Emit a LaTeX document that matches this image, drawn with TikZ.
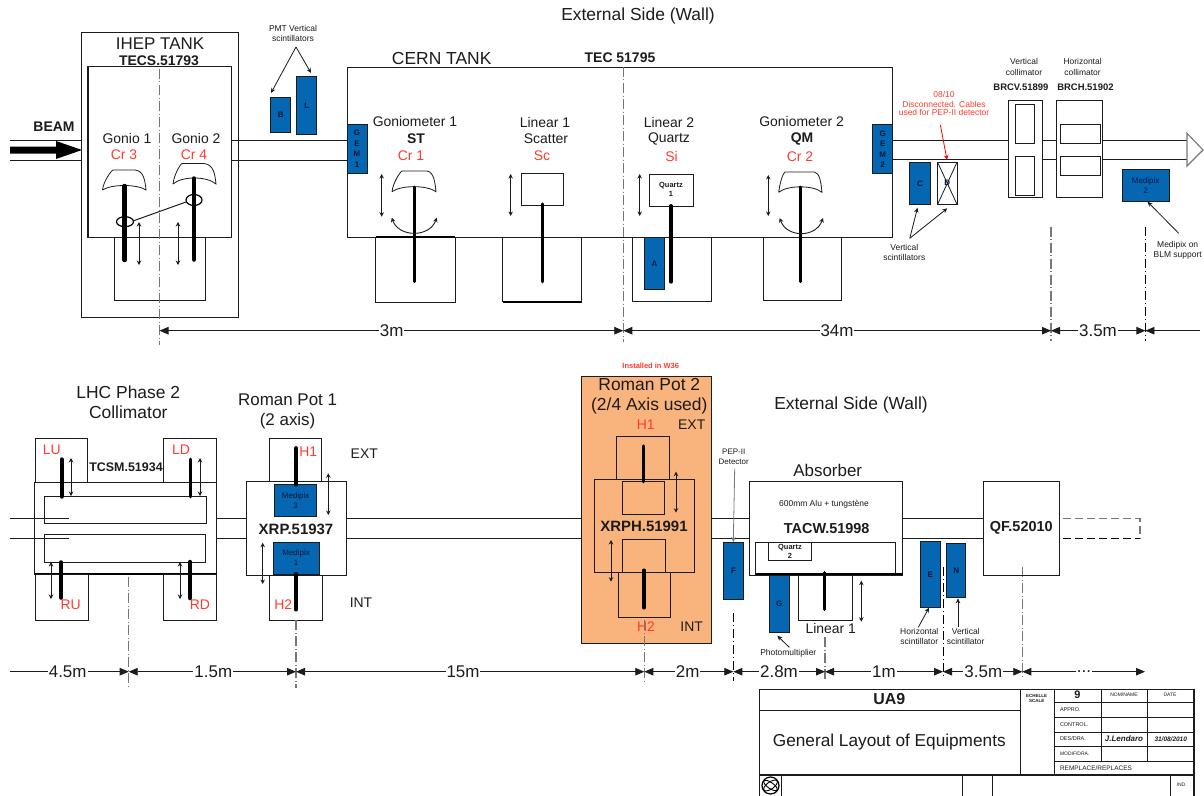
\documentclass[tikz,border=0pt]{standalone}
\usepackage{fontspec}
\setmainfont{Liberation Sans}
\usetikzlibrary{arrows.meta}
\definecolor{ink}{HTML}{1C1C1C}
\definecolor{rd}{HTML}{FF3B30}
\definecolor{blu}{HTML}{0566B2}
\definecolor{nav}{HTML}{06183A}
\definecolor{org}{HTML}{F8B47C}
\definecolor{cl}{HTML}{777777}
\tikzset{
  bx/.style={draw=ink,line width=1bp,inner sep=0pt,outer sep=0pt,anchor=center},
  blubx/.style={bx,fill=blu,draw=ink,text=nav},
  lab/.style={inner sep=0pt,outer sep=0pt,anchor=center,text=ink,align=center},
  ln/.style={draw=ink,line width=1bp},
  stem/.style={draw=black,line cap=round},
  dbl/.style={draw=ink,line width=0.9bp,{Stealth[length=4.5bp,width=4.5bp]}-{Stealth[length=4.5bp,width=4.5bp]}},
  lead/.style={draw=ink,line width=0.8bp,-{Stealth[length=5bp,width=4.5bp]}},
  ctr/.style={draw=cl,line width=1.1bp,dash pattern=on 10bp off 2.5bp on 1bp off 2.5bp},
  ctrk/.style={draw=black,line width=0.9bp,dash pattern=on 9bp off 3bp on 1bp off 3bp},
  dimn/.style={draw=ink,line width=0.8bp,{Triangle[length=9bp,width=7.5bp]}-{Triangle[length=9bp,width=7.5bp]}},
  crys/.style={draw=ink,line width=0.8bp},
}
\newcommand{\Rect}[7][]{%
  \pgfmathsetmacro\bxw{#5-#3}\pgfmathsetmacro\bxh{#6-#4}%
  \pgfmathsetmacro\bxx{(#5+#3)/2}\pgfmathsetmacro\bxy{(#6+#4)/2}%
  \node[bx,#1,minimum width=\bxw bp,minimum height=\bxh bp] (#2) at (\bxx,\bxy) {#7};}
\newcommand{\Txt}[6][]{% opts name x y size text
  \node[lab,node font=\fontsize{#5}{#5}\selectfont,#1] (#2) at (#3,#4) {#6};}
\newcommand{\Conn}[7][ln]{% style name x1 y1 x2 y2 (extra)
  \coordinate (#2a) at (#3,#4); \coordinate (#2b) at (#5,#6);
  \draw[#1,#7] (#2a) -- (#2b);}
\newcommand{\Dbl}[4]{\Conn[dbl]{#1}{#2}{#3}{#2}{#4}{}}
\newcommand{\Stem}[5]{\Conn[stem]{#1}{#2}{#3}{#2}{#4}{line width=#5bp}}
\newcommand{\Dimn}[6]{% name x1 x2 y label labelx
  \coordinate (#1a) at (#2,#4); \coordinate (#1b) at (#3,#4);
  \draw[dimn] (#1a) -- (#1b);
  \node[lab,fill=white,inner xsep=1pt,inner ysep=0pt,font=\fontsize{17}{17}\selectfont] (#1l) at (#6,#4) {#5};}
\newcommand{\Crys}[7]{% xl yb xtl ytop xtr xr ybm
  \draw[crys] (#1,#2) .. controls ({#1+1},{#2-9}) and ({#3-2},{#4+1}) .. (#3,#4)
    -- (#5,#4) .. controls ({#6+2-4},{#4+1}) and ({#6-1},{#2-9}) .. (#6,#2)
    .. controls ({#6-9},{#7-2}) and ({#1+9},{#7-2}) .. (#1,#2);}
\newcommand{\CArc}[4]{% name xl xr y
  \coordinate (#1a) at (#2,#4); \coordinate (#1b) at (#3,#4);
  \draw[dbl] (#1a) .. controls ({#2+7},{#4+20}) and ({#3-7},{#4+20}) .. (#1b);}
\begin{document}
\begin{tikzpicture}[x=1bp,y=-1bp]
\useasboundingbox (0,0) rectangle (1204,796);
\fill[white] (0,0) rectangle (1204,796);

% ===== upper beam line =====
\Conn{b1}{10}{140}{82}{140}{}
\Conn{b2}{10}{160}{82}{160}{}
\Conn{b3}{232}{140}{347}{140}{}
\Conn{b4}{232}{160}{347}{160}{}
\Conn{b5}{892.8}{140}{1008.4}{140}{}
\Conn{b6}{892.8}{159.5}{1008.4}{159.5}{}
\Conn{b7}{1042}{140}{1056.6}{140}{}
\Conn{b8}{1042}{159.5}{1056.6}{159.5}{}
\Conn{b9}{1102.4}{140}{1187}{140}{}
\Conn{b10}{1102.4}{159.5}{1187}{159.5}{}
\draw[draw=cl,line width=1.1bp,fill=white] (1187,133.3) -- (1203,150) -- (1187,166) -- cycle;
% beam arrow
\fill[black] (10,146.5) -- (56,146.5) -- (56,141) -- (82,150) -- (56,159) -- (56,153.5) -- (10,153.5) -- cycle;
\Txt[font=\bfseries]{tbeam}{54}{127}{14}{BEAM}

% ===== IHEP tank =====
\Rect{ihep}{82}{33}{238}{317}{}
\Rect{ihepin}{88}{67}{231.5}{237}{}
\Rect{iheplow}{114}{237}{205.5}{300}{}
\Conn[ctr]{c1}{159.5}{69}{159.5}{345}{}
\Txt{tihep}{160}{44}{17}{IHEP TANK}
\Txt{ttecs}{159}{61}{14}{\textbf{TECS.51793}}
\Txt{tg1}{127}{139}{14}{Gonio 1}
\Txt[text=rd]{tc3}{124}{155}{14}{Cr 3}
\Txt{tg2}{196}{139}{14}{Gonio 2}
\Txt[text=rd]{tc4}{194}{155}{14}{Cr 4}
\Crys{102.5}{190}{113}{170}{135}{146}{186}
\Crys{173}{184}{182}{163.5}{204}{216}{178}
\Stem{s1}{124.7}{186}{260}{4.5}
\Stem{s2}{194}{178}{260}{3.5}
\draw[black,line width=1.2bp] (125,221.7) circle [x radius=8.5,y radius=5];
\draw[black,line width=1.2bp] (194,200) circle [x radius=8,y radius=5.5];
\Conn{gl}{133}{221}{186}{202}{}
\Dbl{d1}{139}{222}{265}
\Dbl{d2}{178}{222}{265}

% PMT scintillators
\Txt{tpmt}{293}{33}{8.5}{PMT Vertical\\[1.5pt]scintillators}
\Rect[blubx,font=\bfseries\fontsize{8}{8}\selectfont]{sB}{270.7}{97.7}{290.7}{132.7}{B}
\Rect[blubx,font=\bfseries\fontsize{8}{8}\selectfont]{sL}{296.7}{76.7}{316.7}{134}{L}
\Conn[lead]{l1}{296}{47}{271}{93}{}
\Conn[lead]{l2}{296}{47}{311}{73}{}

% ===== CERN tank =====
\Rect{cern}{347}{67.3}{892.8}{237.3}{}
\Rect{cl1}{375.7}{237.3}{455}{302.7}{}
\draw[black,line width=2bp] (cl1.north west) -- (cl1.north east);
\Rect{cl2}{502.7}{237.3}{581.7}{301.7}{}
\draw[black,line width=2bp] (cl2.south west) -- (cl2.south east);
\Rect{cl3}{632.3}{237.3}{711}{301.7}{}
\Rect{cl4}{763}{237.3}{841}{300}{}
\Conn[ctr]{c2}{623.3}{67}{623.3}{342}{}
\Txt{tcern}{441.7}{58}{17.5}{CERN TANK}
\Txt{ttec}{620}{58}{14}{\textbf{TEC 51795}}
\Rect[blubx]{gem1}{347}{125}{367}{173}{}
\Rect[blubx]{gem2}{872.7}{125}{892.8}{173}{}
\foreach \lt/\ly/\k in {G/133/a,E/144/b,M/154/c,1/165/d}{\Txt[text=nav,font=\bfseries]{g1\k}{357}{\ly}{8}{\lt}}
\foreach \lt/\ly/\k in {G/134/a,E/144/b,M/155/c,2/165/d}{\Txt[text=nav,font=\bfseries]{g2\k}{882.7}{\ly}{8}{\lt}}
% Goniometer 1
\Txt{tgo1}{415}{122}{14}{Goniometer 1}
\Txt{tst}{416}{139}{14}{\textbf{ST}}
\Txt[text=rd]{tcr1}{411}{156}{14}{Cr 1}
\Crys{392}{191.7}{402}{171}{427}{436}{187}
\Stem{s3}{414}{187}{281.7}{3}
\Dbl{d3}{381.7}{174}{216.7}
\CArc{a3}{391.7}{436.7}{217.7}
% Linear 1
\Txt{tli1}{545}{123}{14}{Linear 1}
\Txt{tsca}{546}{139}{14}{Scatter}
\Txt[text=rd]{tsc}{542}{156}{14}{Sc}
\Rect{sq1}{521.3}{173.3}{563.3}{205}{}
\Stem{s4}{542.3}{204}{281.7}{3.5}
\Dbl{d4}{510.7}{174}{216}
% Linear 2
\Txt{tli2}{669}{123}{14}{Linear 2}
\Txt{tqua}{669}{139}{14}{Quartz}
\Txt[text=rd]{tsi}{671.5}{157}{14}{Si}
\Rect{sq2}{649.3}{174.3}{693}{206.7}{}
\Txt[font=\bfseries]{tq1}{671}{189}{7.5}{Quartz\\[1.5pt]1}
\Stem{s5}{671}{206}{281.7}{4}
\Dbl{d5}{639.7}{174}{216}
\Rect[blubx,font=\bfseries\fontsize{8}{8}\selectfont]{sA}{644.7}{237.3}{664.3}{289.3}{A}
% Goniometer 2
\Txt{tgo2}{801.6}{122}{14}{Goniometer 2}
\Txt{tqm}{802}{139}{14}{\textbf{QM}}
\Txt[text=rd]{tcr2}{800}{157}{14}{Cr 2}
\Crys{778.7}{192.3}{785}{172}{814.4}{822}{187}
\Stem{s6}{800.2}{187}{281.7}{3}
\Dbl{d6}{768.3}{175}{216}
\CArc{a6}{779.7}{823}{218}

% scintillators C, D
\Rect[blubx,font=\bfseries\fontsize{8}{8}\selectfont]{sC}{909.8}{162.3}{930}{204.3}{C}
\Rect[fill=white]{sD}{937.6}{162.3}{957}{204.3}{}
\Txt[text=nav,font=\bfseries]{tD}{947.3}{183}{8}{D}
\draw[ink,line width=0.8bp] (sD.north west) -- (sD.south east) (sD.north east) -- (sD.south west);
\Conn[lead]{l3}{909.8}{238.3}{917.5}{207.7}{}
\Conn[lead]{l4}{909.8}{238.3}{947.3}{208.3}{}
\Txt{tvs}{904.3}{252.5}{8.5}{Vertical\\[1.5pt]scintillators}
\Txt[text=rd]{tdis}{944}{103.5}{8.5}{08/10\\[1.5pt]Disconnected. Cables\\[0.5pt]used for PEP-II detector}
\Conn[lead]{l5}{940.4}{125}{947}{160}{draw=red}

% collimators
\Rect{bv}{1008.4}{100.7}{1042}{197.7}{}
\Rect{bv1}{1015.7}{104.3}{1034.7}{143.3}{}
\Rect{bv2}{1015.7}{156}{1034.7}{195.7}{}
\Rect{bh}{1056.6}{100.7}{1102.4}{197.7}{}
\Rect{bh1}{1060.4}{124}{1100}{143.3}{}
\Rect{bh2}{1060.4}{156}{1100}{175.7}{}
\Txt{tvc}{1024}{67}{8.5}{Vertical\\[2pt]collimator}
\Txt{thc}{1082.6}{67}{8.5}{Horizontal\\[2pt]collimator}
\Txt{tbrcv}{1020.9}{87.5}{9.5}{\textbf{BRCV.51899}}
\Txt{tbrch}{1085.4}{87.5}{9.5}{\textbf{BRCH.51902}}
\Rect[blubx,align=center,font=\fontsize{8}{8}\selectfont]{med2}{1122.2}{169.3}{1169}{201.7}{Medipix\\[2pt]2}
\Conn[lead]{l6}{1178.7}{233.3}{1147.5}{201.7}{}
\Txt{tmed}{1177.7}{250}{8.5}{Medipix on\\[1.5pt]BLM support}

\Txt{text1}{638}{16}{17.5}{External Side (Wall)}

% upper dims
\Conn[ctr]{c3}{1051}{226.7}{1051}{341}{}
\Conn[ctrk]{c4}{1145.4}{226.7}{1145.4}{341}{}
\Dimn{dA}{159.5}{623.3}{330.7}{3m}{391.7}
\Dimn{dB}{623.3}{1051}{330.7}{34m}{837}
\Dimn{dC}{1051}{1145.4}{330.7}{3.5m}{1098}
\coordinate (dDb) at (1200,330.7);
\draw[ln,line width=0.8bp,{Triangle[length=9bp,width=7.5bp]}-] (1145.4,330.7) -- (dDb);

% ===== lower row =====
\Rect[fill=org]{rp2}{581.7}{376.7}{711.7}{643.3}{}
\Conn{e1}{10}{518.7}{69}{518.7}{}
\Conn{e2}{10}{538.3}{69}{538.3}{}
\Conn{e3}{216.7}{518.7}{246.3}{518.7}{}
\Conn{e4}{216.7}{538.3}{246.3}{538.3}{}
\Conn{e5}{346}{518.7}{581.7}{518.7}{}
\Conn{e6}{346}{538.3}{581.7}{538.3}{}
\Conn{e7}{711.7}{518.7}{749.3}{518.7}{}
\Conn{e8}{711.7}{538.3}{749.3}{538.3}{}
\Conn{e9}{902.7}{518.5}{983.7}{518.5}{}
\Conn{e10}{902.7}{538.3}{983.7}{538.3}{}

% LHC collimator
\Txt{tlhc}{128.3}{402}{17.5}{LHC Phase 2\\[2.5pt]Collimator}
\Rect{lu}{35}{438.3}{87.3}{482.7}{}
\Rect{ld}{163.3}{438.3}{216.7}{482.7}{}
\Rect{tcsm}{35}{482.7}{216.7}{574}{}
\draw[black,line width=2bp] (tcsm.south west) -- (tcsm.south east);
\Rect{ru}{35}{574}{88.3}{620}{}
\Rect{rdb}{163.3}{574}{216.7}{620}{}
\Rect{j1}{45}{496.7}{206.7}{523.7}{}
\Rect{j2}{45}{534.3}{205.3}{562}{}
\Txt[text=rd]{tlu}{51.7}{450}{14}{LU}
\Txt[text=rd]{tld}{181}{450}{14}{LD}
\Txt[text=rd]{tru}{70.7}{605}{14}{RU}
\Txt[text=rd]{trd}{200}{605}{14}{RD}
\Txt{ttcsm}{126}{467.7}{12.5}{\textbf{TCSM.51934}}
\Stem{s7}{61.7}{459.3}{496.7}{4}
\Dbl{d7}{71}{458}{496}
\Stem{s8}{190.7}{459.3}{496.7}{3.5}
\Dbl{d8}{200}{458}{496}
\Stem{s9}{61}{562}{598}{3.5}
\Dbl{d9}{51}{562}{599}
\Stem{s10}{190}{562}{598}{4.5}
\Dbl{d10}{180}{562}{599}
\Conn[ctr]{c5}{128.7}{577}{128.7}{688}{}

% Roman Pot 1
\Txt{trp1}{287.6}{411.5}{17}{Roman Pot 1\\[3pt](2 axis)}
\Rect{h1b}{269.3}{438.3}{321.7}{481.7}{}
\Rect{xrp}{246.3}{481.7}{346}{575.3}{}
\Rect{h2b}{269.3}{575.3}{322.7}{620}{}
\Rect[blubx,align=center,font=\fontsize{8}{8}\selectfont]{med3}{274.7}{484.3}{316.7}{516.3}{Medipix\\[2pt]3}
\Rect[blubx,align=center,font=\fontsize{8}{8}\selectfont]{med1}{273.3}{542}{319}{574}{Medipix\\[2pt]1}
\Stem{s11}{296}{448.3}{484.3}{4.5}
\Stem{s12}{296}{574}{609.3}{4.5}
\Dbl{d11}{328.3}{473.3}{515}
\Dbl{d12}{262.7}{542.7}{584}
\Txt[text=rd]{th1}{308.3}{451.7}{14}{H1}
\Txt[text=rd]{th2}{283.3}{604.3}{14}{H2}
\Txt{text}{364.3}{453.3}{14}{EXT}
\Txt{tint}{361}{602.7}{14}{INT}
\Txt{txrp}{296}{529}{15}{\textbf{XRP.51937}}
\Conn[ctr]{c6}{296}{620}{296}{688}{}

% Roman Pot 2
\Txt[text=rd,font=\bfseries]{tinst}{650.7}{366}{7.5}{Installed in W36}
\Txt{trp2}{649.3}{396}{17.5}{Roman Pot 2\\[2.5pt](2/4 Axis used)}
\Txt[text=rd]{th1b}{645.7}{425}{14}{H1}
\Txt{text2}{691.7}{425}{14}{EXT}
\Txt[text=rd]{th2b}{646}{626.7}{14}{H2}
\Txt{tint2}{691.7}{626.7}{14}{INT}
\Rect{h1c}{616}{436}{669.3}{479}{}
\Rect{xrph}{594}{479}{694.3}{572.7}{}
\Rect{h2c}{618.7}{572.7}{670.7}{617.7}{}
\Rect{i1}{622.3}{481.7}{664.3}{514}{}
\Rect{i2}{622.7}{539.7}{665.7}{572}{}
\Stem{s13}{643.3}{446}{481.7}{3.5}
\Stem{s14}{644}{570.7}{607.3}{4.5}
\Dbl{d13}{676}{471.7}{512.7}
\Dbl{d14}{611}{540}{581.7}
\Txt{txrph}{644}{526}{15}{\textbf{XRPH.51991}}
\Conn[ctr]{c7}{644.3}{620}{644.3}{681}{}

\Txt{text3}{851}{405}{17.5}{External Side (Wall)}

% PEP-II
\Txt{tpep}{733.7}{457}{8}{PEP-II\\[1.5pt]Detector}
\Rect[blubx,font=\bfseries\fontsize{8}{8}\selectfont]{sF}{723.3}{542.3}{743.7}{599}{F}
\Conn[lead]{l7}{734.7}{469}{733.3}{542}{draw=cl}
\Conn[ctrk]{c8}{733.3}{613.3}{733.3}{681}{}

% Absorber
\Txt{tabs}{827.7}{470.7}{17}{Absorber}
\Rect{abs}{749.3}{481.7}{902.7}{575.3}{}
\Rect{absin}{755.3}{542.3}{895.3}{574.3}{}
\draw[black,line width=1.8bp] (absin.south west) -- (abs.east |- absin.south);
\Rect{q2}{768}{542.3}{811.3}{560.7}{}
\Txt[font=\bfseries]{tq2}{790}{551}{7.5}{Quartz\\[1.5pt]2}
\Txt{t600}{824}{504}{8.5}{600mm Alu + tungstène}
\Txt[font=\bfseries]{ttacw}{826.7}{529}{14.5}{TACW.51998}
\Rect[blubx,font=\bfseries\fontsize{8}{8}\selectfont]{sG}{769.3}{575.3}{789.3}{632.3}{G}
\Rect{lin}{798.7}{575.3}{852.3}{620}{}
\Stem{s15}{824.7}{572.7}{609.3}{3.5}
\Dbl{d15}{861.3}{580.7}{621.7}
\Txt{tlin}{830.7}{628.7}{14}{Linear 1}
\Txt{tphm}{788.3}{653.3}{8.5}{Photomultiplier}
\Conn[lead]{l8}{789.3}{647.3}{777.3}{635.7}{}
\Conn[ctr]{c9}{825}{637}{825}{681}{}

% E N
\Rect[blubx,font=\bfseries\fontsize{8}{8}\selectfont]{sE}{920.7}{541.7}{940}{607.7}{E}
\Rect[blubx,font=\bfseries\fontsize{8}{8}\selectfont]{sN}{946.7}{543.3}{965.7}{597.7}{N}
\Conn[lead]{l9}{918.3}{627.3}{929}{607.7}{}
\Conn[lead]{l10}{958}{626.7}{958}{598.3}{}
\Txt{th}{919.3}{636.5}{8.5}{Horizontal\\[1.5pt]scintillator}
\Txt{tv}{965.7}{636.5}{8.5}{Vertical\\[1.5pt]scintillator}
\Conn[ctrk]{c10}{943}{567.3}{943}{678.3}{}
\Conn[ctr]{c11}{1022.3}{567.3}{1022.3}{678.3}{}

% QF
\Rect{qf}{983.7}{481.7}{1059.3}{575.3}{}
\Txt[font=\bfseries]{tqf}{1021.3}{527.7}{14.5}{QF.52010}
\draw[cl,line width=1.1bp,dash pattern=on 8bp off 4bp] (1063.3,518.3) -- (1140,518.3) -- (1140,538.3);
\coordinate (qa) at (1063.3,538.3); \coordinate (qb) at (1140,538.3);
\draw[black,line width=1bp,dash pattern=on 8bp off 4bp] (qa) -- (qb);

% lower dims
\coordinate (dE) at (10,671.7);
\draw[ln,line width=0.8bp,-{Triangle[length=9bp,width=7.5bp]}] (dE) -- (128.7,671.7);
\node[lab,fill=white,inner xsep=1pt,font=\fontsize{17}{17}\selectfont] (d45) at (67.7,671.7) {4.5m};
\Dimn{dF}{128.7}{296}{671.7}{1.5m}{213.3}
\Dimn{dG}{296}{644.3}{671.7}{15m}{463}
\Dimn{dH}{644.3}{733.3}{671.7}{2m}{687.7}
\Dimn{dI}{733.3}{825}{671.7}{2.8m}{779}
\Dimn{dJ}{825}{943}{671.7}{1m}{884}
\Dimn{dK}{943}{1022.3}{671.7}{3.5m}{983.3}
\Dimn{dL}{1022.3}{1145}{671.7}{...}{1084}

% ===== title block =====
\Rect[line width=1.2bp]{tb}{759.3}{689.3}{1194}{800}{}
\Conn{v1}{1020}{689.3}{1020}{775}{}
\Conn{v2}{1054.3}{689.3}{1054.3}{775}{}
\Conn{v3}{1101.3}{689.3}{1101.3}{761.7}{}
\Conn{v4}{1147.3}{689.3}{1147.3}{761.7}{}
\Conn{h0}{759.3}{710}{1020}{710}{}
\Conn{h1}{759.3}{775}{1194}{775}{line width=1.2bp}
\Conn{h2}{1054.3}{702.3}{1194}{702.3}{}
\Conn{h3}{1054.3}{717.3}{1194}{717.3}{}
\Conn{h4}{1054.3}{732.3}{1194}{732.3}{}
\Conn{h5}{1054.3}{746}{1194}{746}{}
\Conn{h6}{1054.3}{761.7}{1194}{761.7}{}
\Conn{w1}{962}{775}{962}{796}{}
\Conn{w2}{992.3}{775}{992.3}{796}{}
\Conn{w3}{1170.7}{775}{1170.7}{796}{}
\Conn{w4}{781.7}{775}{781.7}{796}{}
\draw[black,line width=1.2bp] (770.5,785.5) circle [radius=8.5];
\draw[black,line width=0.9bp,rotate around={35:(770.5,785.5)}] (770.5,785.5) circle [x radius=8,y radius=3.5];
\draw[black,line width=0.9bp,rotate around={-35:(770.5,785.5)}] (770.5,785.5) circle [x radius=8,y radius=3];
\Txt[font=\bfseries]{tua9}{889.3}{699}{16}{UA9}
\Txt{tgen}{889.3}{741.7}{17.3}{General Layout of Equipments}
\Txt[font=\bfseries]{tsc1}{1036.7}{698.3}{4.5}{ECHELLE\\[0.5pt]SCALE}
\Txt[font=\bfseries]{tnine}{1077.3}{695}{11}{9}
\Txt{tnom}{1124}{695}{5}{NOM/NAME}
\Txt{tdate}{1170}{695}{5}{DATE}
\Txt[anchor=west]{tappro}{1060}{710}{5.5}{APPRO.}
\Txt[anchor=west]{tcont}{1060}{724.3}{5.5}{CONTROL.}
\Txt[anchor=west]{tdes}{1060}{739}{5.5}{DES/DRA.}
\Txt[anchor=west]{tmod}{1060}{753.3}{5}{MODIF/DRA.}
\Txt[anchor=west]{trem}{1060}{768}{6.5}{REMPLACE/REPLACES}
\Txt[font=\bfseries\itshape]{tjl}{1124}{739}{8}{J.Lendaro}
\Txt[font=\bfseries\itshape]{tdt}{1170.7}{739}{6.5}{31/08/2010}
\Txt{tind}{1181.7}{785}{5}{IND.}
\end{tikzpicture}
\end{document}
